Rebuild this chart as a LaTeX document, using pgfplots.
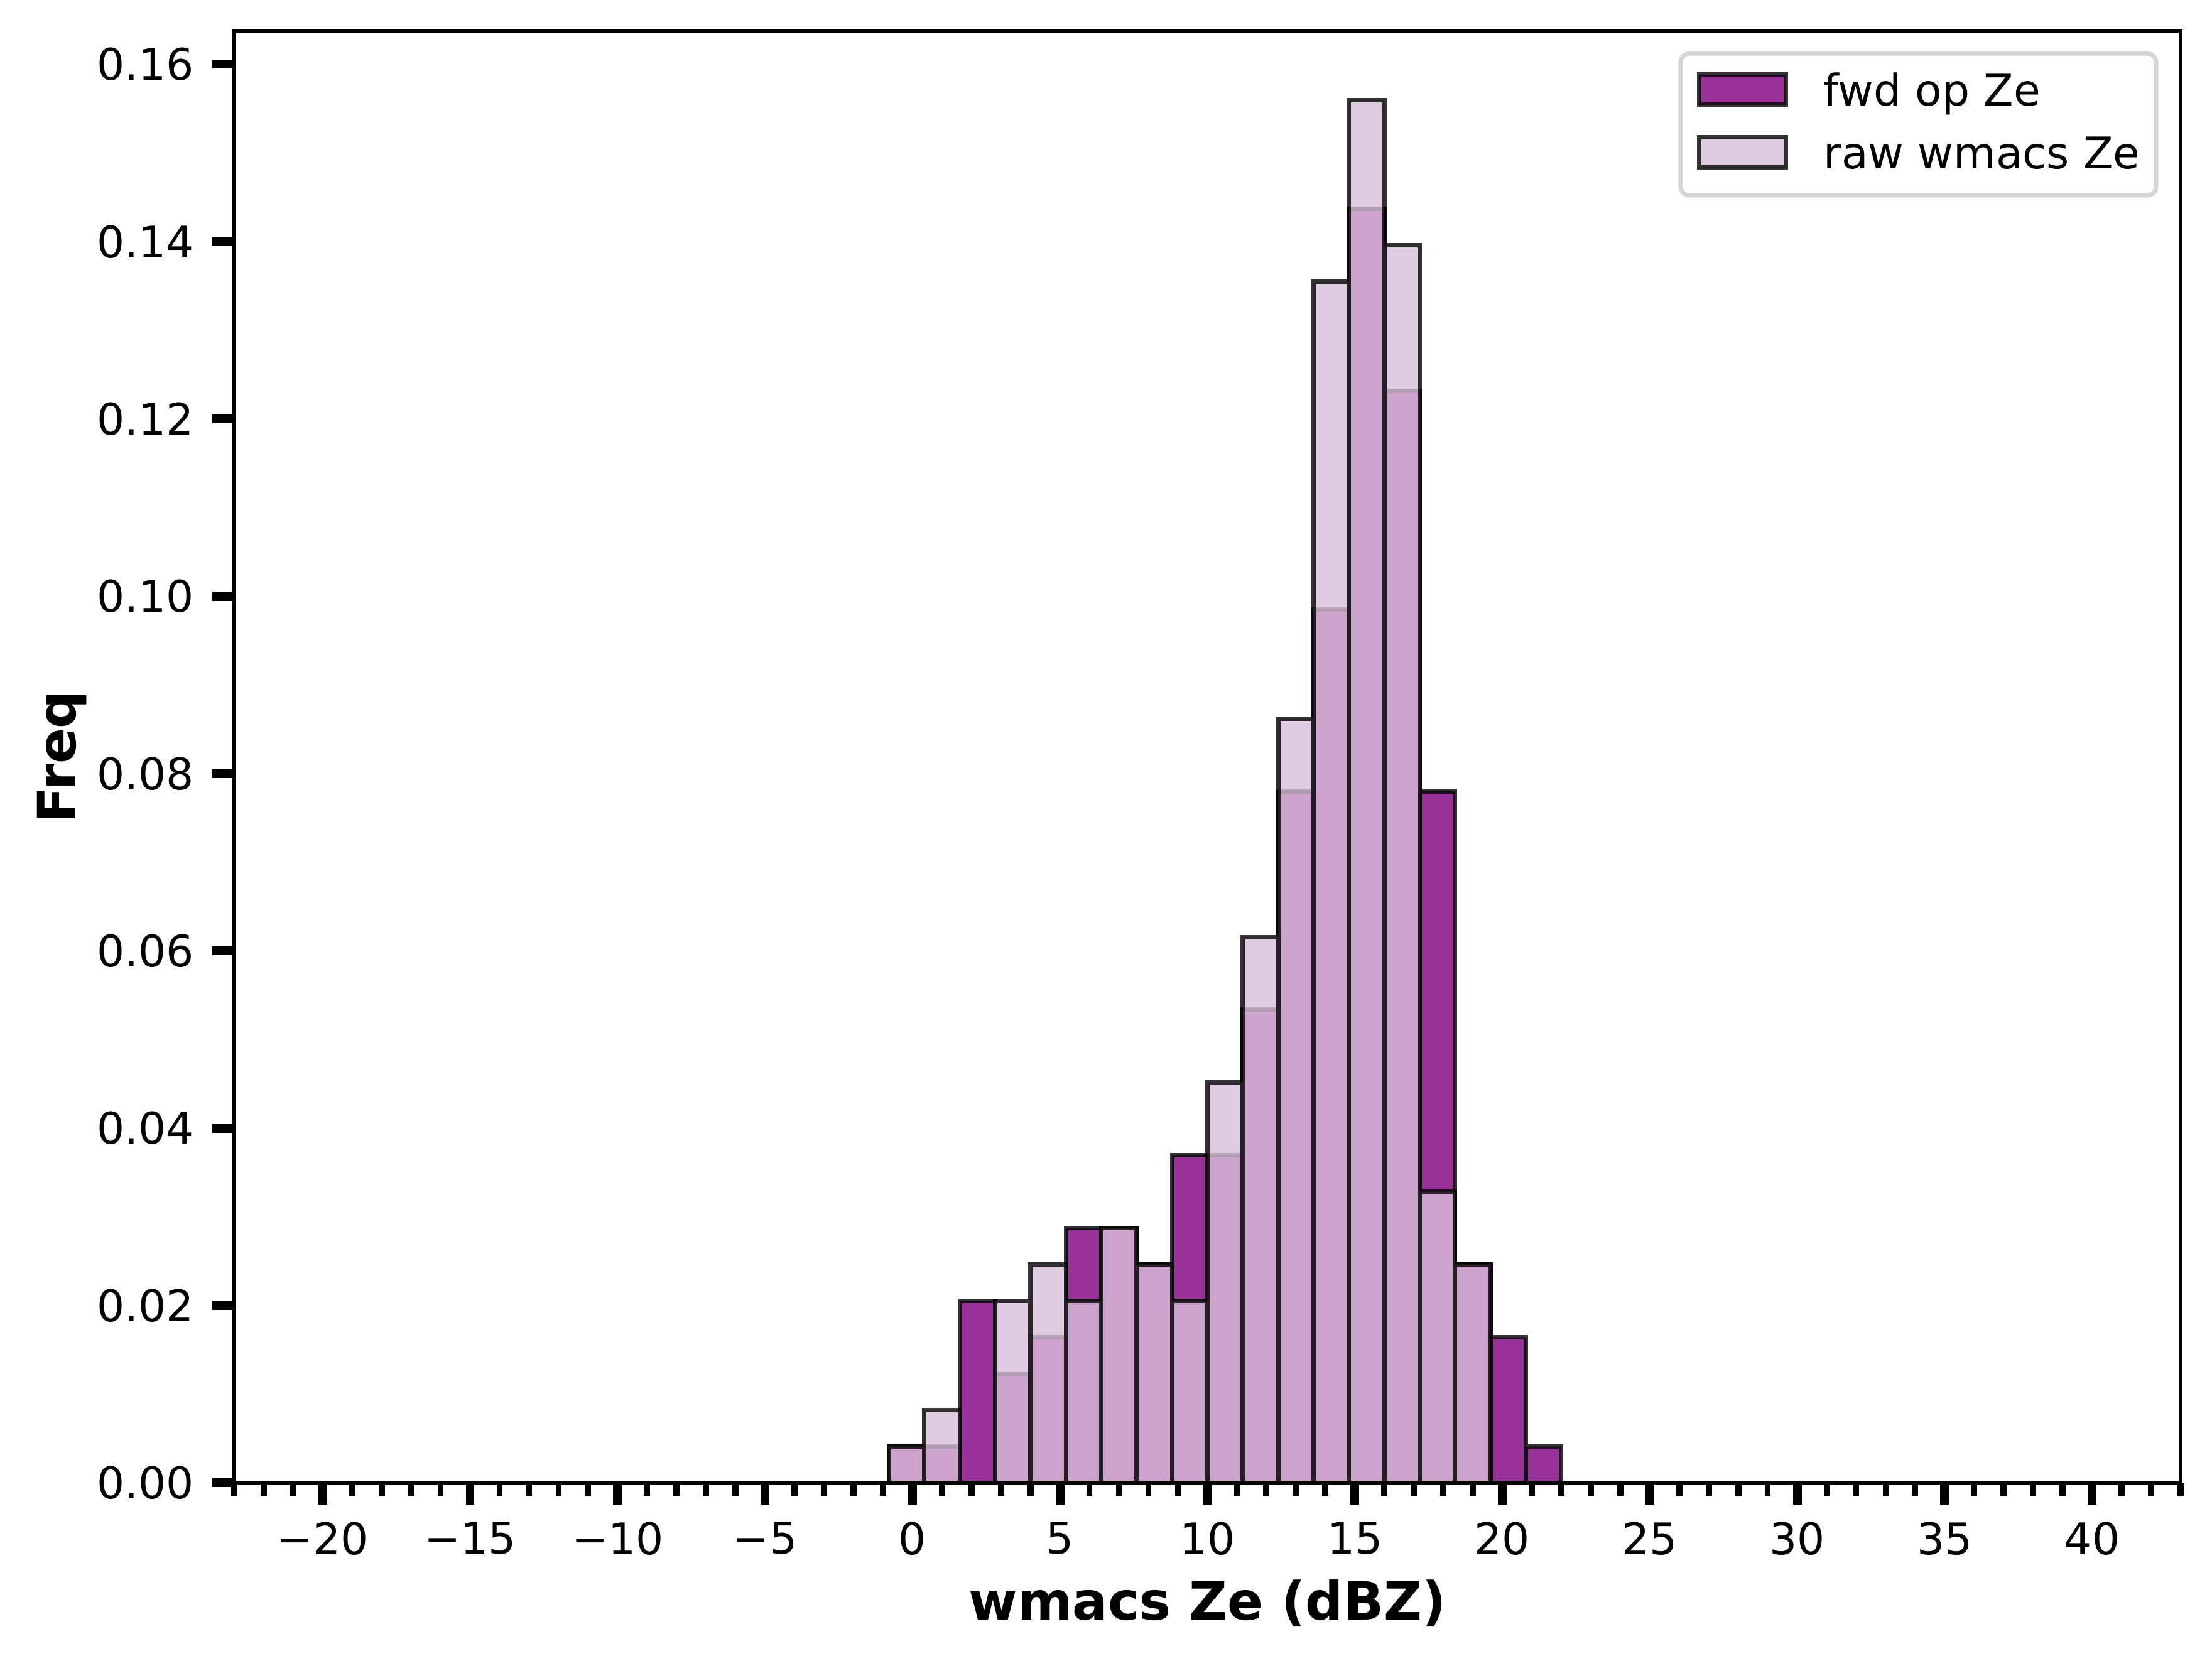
\documentclass[border=0pt]{standalone}
\usepackage{fontspec}
\setmainfont{DejaVu Sans}
\usepackage{pgfplots}
\pgfplotsset{compat=1.18}
\definecolor{mplpurple}{RGB}{128,0,128}
\definecolor{mplthistle}{RGB}{216,191,216}
\definecolor{legframe}{RGB}{214,214,214}
\pgfplotsset{
  mylegend/.style={legend image code/.code={\draw[##1, sharp corners] (0pt,-2.665pt) rectangle (19.9pt,4.245pt);}},
}
\begin{document}
\begin{tikzpicture}
\useasboundingbox (-53.7pt,-40.75pt) rectangle (453.5pt,340.06pt);
\begin{axis}[
  scale only axis, width=446.3pt, height=333pt,
  xmin=-23, xmax=43, ymin=0, ymax=0.16379,
  axis on top,
  xtick={-20,-15,-10,-5,0,5,10,15,20,25,30,35,40},
  xticklabels={−20,−15,−10,−5,0,5,10,15,20,25,30,35,40},
  minor xtick={-23,-22,...,43},
  ytick={0,0.02,0.04,0.06,0.08,0.10,0.12,0.14,0.16},
  yticklabels={0.00,0.02,0.04,0.06,0.08,0.10,0.12,0.14,0.16},
  tick pos=left, tick align=outside,
  major tick length=5pt, minor tick length=3pt,
  major tick style={line width=2pt, black},
  minor tick style={line width=1.4pt, black},
  axis line style={line width=0.8pt, black},
  ticklabel style={font=\fontsize{10}{12}\selectfont},
  xticklabel style={inner sep=0pt, anchor=north},
  yticklabel style={inner sep=0pt, anchor=east},
  xticklabel shift=3.8pt, yticklabel shift=4.0pt,
  xlabel={wmacs Ze (dBZ)}, ylabel={Freq},
  xlabel style={at={(axis description cs:0.5,-0.0943)}, anchor=base, font=\fontsize{12.1}{14}\selectfont\bfseries},
  ylabel style={at={(axis description cs:-0.0813,0.5)}, anchor=base, font=\fontsize{12.1}{14}\selectfont\bfseries},
  legend cell align=left,
  legend style={at={(axis description cs:0.98857,0.98588)}, anchor=north east,
    draw=legframe, line width=1pt, rounded corners=2pt, fill=white,
    font=\fontsize{10}{12}\selectfont,
    inner xsep=3.7pt, inner ysep=2.5pt, row sep=1.25pt, column sep=8.2pt,
    nodes={inner sep=0pt, text height=9.45pt, text depth=3.7pt}},
]
\addplot[ybar interval, fill=mplpurple, fill opacity=0.8, draw=black, draw opacity=0.8, line width=1pt, mylegend] coordinates {
(-0.8,0.004105) (0.4,0.004105) (1.6,0.020525) (2.8,0.012315) (4.0,0.016420)
(5.2,0.028736) (6.4,0.028736) (7.6,0.024631) (8.8,0.036946) (10.0,0.036946)
(11.2,0.053366) (12.4,0.077997) (13.6,0.098522) (14.8,0.143678) (16.0,0.123153)
(17.2,0.077997) (18.4,0.024631) (19.6,0.016420) (20.8,0.004105) (22.0,0)
};
\addlegendentry{fwd op Ze}
\addplot[ybar interval, fill=mplthistle, fill opacity=0.8, draw=black, draw opacity=0.8, line width=1pt, mylegend] coordinates {
(-0.8,0.004105) (0.4,0.008210) (1.6,0) (2.8,0.020525) (4.0,0.024631)
(5.2,0.020525) (6.4,0.028736) (7.6,0.024631) (8.8,0.020525) (10.0,0.045156)
(11.2,0.061576) (12.4,0.086207) (13.6,0.135468) (14.8,0.155993) (16.0,0.139573)
(17.2,0.032841) (18.4,0.024631) (19.6,0) (20.8,0) (22.0,0)
};
\addlegendentry{raw wmacs Ze}
\end{axis}
\end{tikzpicture}
\end{document}
